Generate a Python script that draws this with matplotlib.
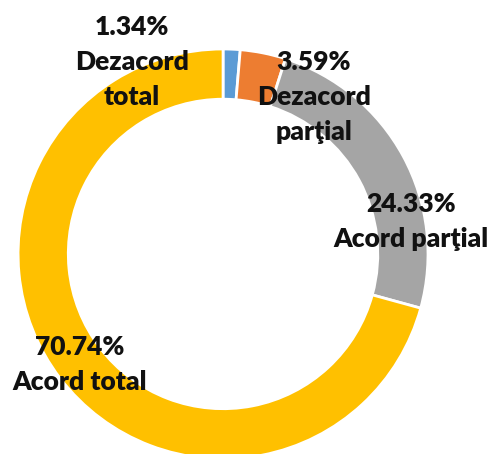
import matplotlib.pyplot as plt

labels = ["Dezacord\ntotal", "Dezacord\nparţial", "Acord parţial", "Acord total"]
values = [1.34, 3.59, 24.33, 70.74]
colors = ["#5B9BD5", "#ED7D31", "#A5A5A5", "#FFC000"]

# label centres (axes data units, ring radius = 1)
label_pos = [(-0.444, 0.937), (0.444, 0.766), (0.917, 0.156), (-0.698, -0.541)]

fig = plt.figure(figsize=(4.92, 4.54), dpi=100)
ax = fig.add_axes([0, 0, 1, 1])

ax.pie(values, colors=colors, startangle=90, counterclock=False, radius=1,
       wedgeprops=dict(width=0.245, edgecolor="white", linewidth=2))

for lab, val, (x, y) in zip(labels, values, label_pos):
    ax.text(x, y, f"{val:.2f}%\n{lab}", ha="center", va="center",
            fontsize=19, fontweight="heavy", family=["Lato", "DejaVu Sans"],
            color="#111111", linespacing=1.55)

ax.set_xlim(-1.088, 1.312)
ax.set_ylim(-0.976, 1.239)
ax.set_aspect("equal")
ax.axis("off")

plt.savefig("out.png", dpi=100)
